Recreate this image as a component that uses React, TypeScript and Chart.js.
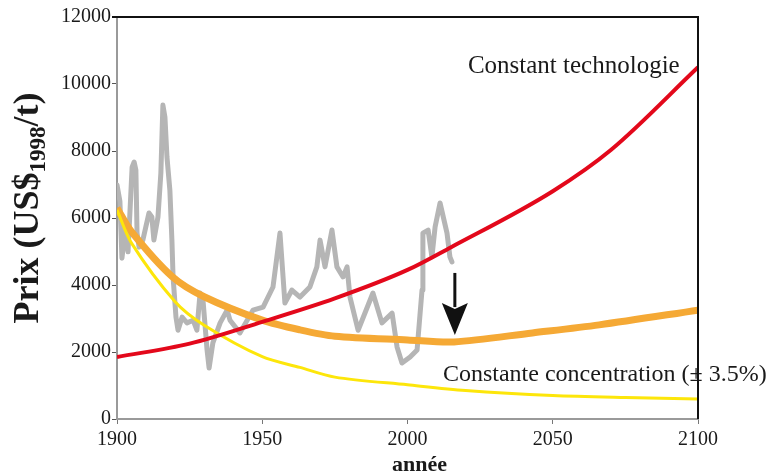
import React, { useEffect, useRef } from "react";
import { Chart, registerables } from "chart.js";

Chart.register(...registerables);

// ---- Data ----
const grayYears = [1900, 1901, 1901.7, 1902.8, 1903.8, 1905.2, 1905.9, 1906.5, 1906.9, 1907.6, 1908.9, 1911, 1912, 1912.7, 1914.1, 1915.1, 1915.8, 1916.5, 1917.2, 1918.2, 1918.9, 1919.3, 1920.3, 1921, 1922.4, 1924.1, 1926.2, 1927.5, 1928.6, 1929.6, 1931, 1931.7, 1933, 1935.5, 1937.9, 1938.9, 1942.3, 1946.8, 1950.3, 1953.7, 1956.1, 1957.8, 1960.2, 1963, 1966.4, 1968.8, 1969.9, 1971.6, 1974, 1975.7, 1977.8, 1979.2, 1980.2, 1983, 1988.1, 1991.2, 1994.7, 1996.4, 1998.1, 2000.9, 2003.3, 2005, 2005.3, 2007.1, 2008.4, 2009.5, 2011.2, 2013.6, 2014.6, 2015.3];
const grayValues = [6985, 6500, 4800, 5640, 4990, 7520, 7670, 7430, 5550, 5130, 5340, 6150, 6030, 5340, 6030, 7340, 9370, 9010, 7820, 6830, 5340, 4240, 3040, 2650, 3040, 2870, 2950, 2650, 3760, 3550, 2060, 1520, 2270, 2870, 3250, 2950, 2570, 3250, 3340, 3940, 5550, 3460, 3850, 3640, 3940, 4540, 5340, 4540, 5640, 4540, 4240, 4540, 3640, 2650, 3760, 2870, 3160, 2150, 1670, 1850, 2060, 3850, 5550, 5640, 4840, 5730, 6450, 5550, 4840, 4690];

const redYears = [1900, 1925, 1950, 1975, 2000, 2015, 2050, 2070, 2100];
const redValues = [1850, 2250, 2900, 3600, 4450, 5130, 6800, 8030, 10500];

const orangeYears = [1900, 1905, 1919, 1930, 1950, 1963, 1975, 2000, 2016, 2043, 2066, 2100];
const orangeValues = [6300, 5590, 4250, 3650, 2950, 2660, 2470, 2360, 2300, 2570, 2810, 3250];

const yellowYears = [1900, 1905, 1920, 1930, 1950, 1963, 1975, 2000, 2020, 2050, 2075, 2100];
const yellowValues = [6240, 5250, 3500, 2800, 1860, 1540, 1250, 1020, 850, 700, 640, 600];

const xTicks = [1900, 1950, 2000, 2050, 2100];
const yTicks = [0, 2000, 4000, 6000, 8000, 10000, 12000];

const labelTech = "Constant technologie";
const labelConc = "Constante concentration (\u00b1 3.5%)";
const yTitleMain = "Prix (US$";
const yTitleSub = "1998";
const yTitleEnd = "/t)";
const xTitle = "ann\u00e9e";

const zip = (xs: number[], ys: number[]) => xs.map((x, i) => ({ x, y: ys[i] }));

const SERIF = "'Liberation Serif', 'Times New Roman', serif";

const customPlugin = {
  id: "customDecor",
  afterDraw(chart: any) {
    const ctx = chart.ctx;
    const { left, right, top, bottom } = chart.chartArea;
    const xs = chart.scales.x;
    const ys = chart.scales.y;
    ctx.save();

    // arrow
    const ax = xs.getPixelForValue(2016.3);
    const yTop = ys.getPixelForValue(4360);
    const yBase = ys.getPixelForValue(3460);
    const yTip = ys.getPixelForValue(2510);
    ctx.strokeStyle = "#111";
    ctx.fillStyle = "#111";
    ctx.lineWidth = 3;
    ctx.beginPath();
    ctx.moveTo(ax, yTop);
    ctx.lineTo(ax, yBase + 4);
    ctx.stroke();
    ctx.beginPath();
    ctx.moveTo(ax, yTip);
    ctx.lineTo(ax - 13, yBase);
    ctx.lineTo(ax, yBase + 6);
    ctx.lineTo(ax + 13, yBase);
    ctx.closePath();
    ctx.fill();

    // annotation texts
    ctx.fillStyle = "#1a1a1a";
    ctx.textAlign = "left";
    ctx.textBaseline = "alphabetic";
    ctx.font = `25px ${SERIF}`;
    ctx.fillText(labelTech, xs.getPixelForValue(2020.8), ys.getPixelForValue(10330));
    ctx.font = `24px ${SERIF}`;
    ctx.fillText(labelConc, xs.getPixelForValue(2012.2), ys.getPixelForValue(1130));

    // x title
    ctx.font = `bold 22px ${SERIF}`;
    ctx.textAlign = "center";
    ctx.fillText(xTitle, (left + right) / 2 + 12, 471);

    // y title (rotated, with subscript)
    ctx.save();
    ctx.translate(38, 208);
    ctx.rotate(-Math.PI / 2);
    ctx.textAlign = "left";
    const mainFont = `bold 36px ${SERIF}`;
    const subFont = `bold 23px ${SERIF}`;
    ctx.font = mainFont;
    const w1 = ctx.measureText(yTitleMain).width;
    const w3 = ctx.measureText(yTitleEnd).width;
    ctx.font = subFont;
    const w2 = ctx.measureText(yTitleSub).width;
    let x0 = -(w1 + w2 + w3) / 2;
    ctx.font = mainFont;
    ctx.fillText(yTitleMain, x0, 0);
    x0 += w1;
    ctx.font = subFont;
    ctx.fillText(yTitleSub, x0, 7);
    x0 += w2;
    ctx.font = mainFont;
    ctx.fillText(yTitleEnd, x0, 0);
    ctx.restore();

    // top and right borders
    ctx.strokeStyle = "#111";
    ctx.lineWidth = 2;
    ctx.beginPath();
    ctx.moveTo(left - 5, top);
    ctx.lineTo(right, top);
    ctx.lineTo(right, bottom);
    ctx.stroke();
    ctx.restore();
  },
};

export default function App() {
  const ref = useRef<HTMLCanvasElement | null>(null);
  useEffect(() => {
    if (!ref.current) return;
    const chart = new Chart(ref.current, {
      type: "line",
      data: {
        datasets: [
          {
            label: "Constant technologie",
            data: zip(redYears, redValues),
            borderColor: "#e3081b",
            borderWidth: 4,
            pointRadius: 0,
            cubicInterpolationMode: "monotone",
            order: 0,
          },
          {
            label: "Constante concentration",
            data: zip(yellowYears, yellowValues),
            borderColor: "#fde60a",
            borderWidth: 3,
            pointRadius: 0,
            tension: 0.3,
            order: 1,
          },
          {
            label: "Orange",
            data: zip(orangeYears, orangeValues),
            borderColor: "#f5a935",
            borderWidth: 7,
            pointRadius: 0,
            tension: 0.3,
            order: 2,
          },
          {
            label: "Historique",
            data: zip(grayYears, grayValues),
            borderColor: "#b5b5b5",
            borderWidth: 5,
            pointRadius: 0,
            tension: 0,
            borderJoinStyle: "round",
            borderCapStyle: "round",
            order: 3,
          },
        ],
      },
      options: {
        animation: false,
        responsive: false,
        maintainAspectRatio: false,
        layout: { padding: { left: 0, top: 17, right: 73, bottom: 0 } },
        plugins: { legend: { display: false }, tooltip: { enabled: false } },
        scales: {
          x: {
            type: "linear",
            min: 1900,
            max: 2100,
            afterBuildTicks: (s: any) => {
              s.ticks = xTicks.map((v) => ({ value: v }));
            },
            afterFit: (s: any) => {
              s.height = 56;
            },
            border: { display: true, color: "#9a9a9a", width: 2 },
            grid: { display: true, drawOnChartArea: false, drawTicks: true, tickLength: 5, color: "#777" },
            ticks: {
              font: { family: SERIF, size: 20 },
              color: "#1a1a1a",
              padding: 4,
              maxRotation: 0,
              callback: (v: any) => String(v),
            },
          },
          y: {
            type: "linear",
            min: 0,
            max: 12000,
            afterBuildTicks: (s: any) => {
              s.ticks = yTicks.map((v) => ({ value: v }));
            },
            afterFit: (s: any) => {
              s.width = 117;
            },
            border: { display: true, color: "#9a9a9a", width: 2 },
            grid: { display: true, drawOnChartArea: false, drawTicks: true, tickLength: 5, color: "#555" },
            ticks: {
              font: { family: SERIF, size: 20 },
              color: "#1a1a1a",
              padding: 1,
              callback: (v: any) => String(v),
            },
          },
        },
      },
      plugins: [customPlugin],
    } as any);
    return () => chart.destroy();
  }, []);

  return (
    <div style={{ position: "absolute", left: 0, top: 0, width: 771, height: 475, background: "#fff" }}>
      <canvas ref={ref} width={771} height={475} style={{ width: 771, height: 475 }} />
    </div>
  );
}
